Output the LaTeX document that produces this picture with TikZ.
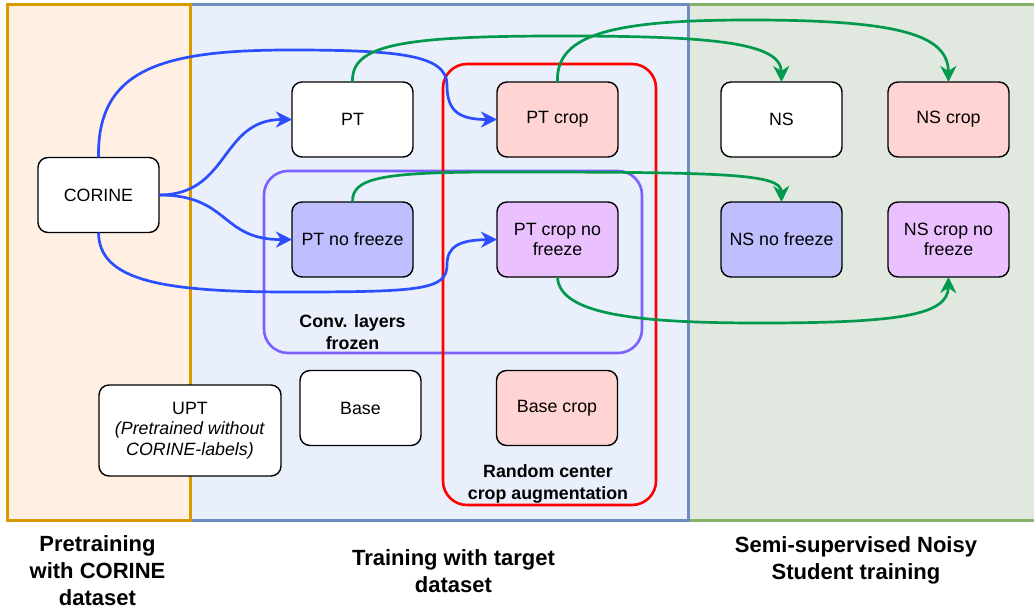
\documentclass[tikz,border=0pt]{standalone}
\usepackage{fontspec}
\setmainfont{Liberation Sans}
\usetikzlibrary{positioning, arrows.meta}
\definecolor{prefill}{HTML}{FFF0E3}
\definecolor{preline}{HTML}{D79B00}
\definecolor{trainfill}{HTML}{E9EFFB}
\definecolor{trainline}{HTML}{6C8EBF}
\definecolor{nsfill}{HTML}{E1E8E0}
\definecolor{nsline}{HTML}{82B366}
\definecolor{cropfill}{HTML}{FFD4D3}
\definecolor{freezefill}{HTML}{BFBFFF}
\definecolor{bothfill}{HTML}{EBC0FF}
\definecolor{frozenline}{HTML}{7B61FF}
\definecolor{pretrainblue}{HTML}{2B4EFF}
\definecolor{studentgreen}{HTML}{00994D}
\tikzset{block/.style={draw, rounded corners=5pt, line width=0.7pt, fill=white, outer sep=0pt,
            minimum width=60.5pt, minimum height=37.5pt, align=center, inner sep=2pt,
            font=\fontsize{8.9}{10.3}\selectfont},
         panel/.style={line width=1.5pt},
         group/.style={line width=1.3pt, rounded corners=12pt},
         grouplabel/.style={align=center, font=\fontsize{8.9}{10.8}\selectfont\bfseries},
         stagelabel/.style={align=center, font=\fontsize{11}{13.5}\selectfont\bfseries},
         pretrain/.style={draw=pretrainblue, line width=1.35pt, -{Stealth[length=8pt, width=8pt, inset=2.5pt]}},
         student/.style={draw=studentgreen, line width=1.35pt, -{Stealth[length=8pt, width=8pt, inset=2.5pt]}}}

\begin{document}
\begin{tikzpicture}[x=0.5pt, y=-0.5pt]
    \useasboundingbox (0,0) rectangle (1034,610);
    % stages
    \draw[panel, draw=nsline, fill=nsfill] (688,5) rectangle (1040,520);
    \draw[panel, draw=trainline, fill=trainfill] (190,5) rectangle (688,520);
    \draw[panel, draw=preline, fill=prefill] (7,5) rectangle (190,520);

    % groups
    \draw[group, draw=frozenline] (264,171) rectangle (642,353);
    \draw[group, draw=red] (443,64) rectangle (656,505);
    \node[grouplabel] (frozen) at (352.5,332) {Conv. layers\\frozen};
    \node[grouplabel] (cropaug) at (548,484) {Random center\\crop augmentation};

    % models
    \node[block] (corine) at (98.5,195) {CORINE};
    \node[block] (pt) at (352.5,119.5) {PT};
    \node[block, fill=cropfill, right=42pt of pt] (ptcrop) {PT crop};
    \node[block, fill=freezefill, below=22.5pt of pt] (ptnf) {PT no freeze};
    \node[block, fill=bothfill, below=22.5pt of ptcrop] (ptcropnf) {PT crop no\\freeze};
    \node[block, right=51.5pt of ptcrop] (ns) {NS};
    \node[block, fill=cropfill, right=23pt of ns] (nscrop) {NS crop};
    \node[block, fill=freezefill, below=22.5pt of ns] (nsnf) {NS no freeze};
    \node[block, fill=bothfill, below=22.5pt of nscrop] (nscropnf) {NS crop no\\freeze};
    \node[block, minimum width=91pt, minimum height=45.5pt] (upt) at (190,430.5)
        {UPT\\\textit{(Pretrained without}\\\textit{CORINE-labels)}};
    \node[block] (base) at (360.5,408) {Base};
    \node[block, fill=cropfill] (basecrop) at (557,408) {Base crop};

    % pretrained weights
    \draw[pretrain] (corine.east) .. controls (230,195) and (220,119.5) .. (pt.west);
    \draw[pretrain] (corine.east) .. controls (230,195) and (220,240) .. (ptnf.west);
    \draw[pretrain] (corine.north) .. controls (97,70) and (160,50) .. (290,50)
        .. controls (400,50) and (447,55) .. (447,85)
        .. controls (447,112) and (460,119.5) .. (ptcrop.west);
    \draw[pretrain] (corine.south) .. controls (99,280) and (160,292) .. (290,292)
        .. controls (420,292) and (447,290) .. (447,265)
        .. controls (447,246) and (460,240) .. (ptcropnf.west);

    % teachers
    \draw[student] (pt.north) .. controls (351,45) and (400,36) .. (560,36)
        .. controls (710,36) and (781,42) .. (ns.north);
    \draw[student] (ptcrop.north) .. controls (555,32) and (620,20) .. (750,20)
        .. controls (900,20) and (948,35) .. (nscrop.north);
    \draw[student] (ptnf.north) .. controls (352,178) and (380,172) .. (500,172)
        .. controls (730,172) and (781,174) .. (nsnf.north);
    \draw[student] (ptcropnf.south) .. controls (559,315) and (640,323) .. (760,323)
        .. controls (900,323) and (948,315) .. (nscropnf.south);

    % stage names
    \node[stagelabel] (prename) at (97.5,571) {Pretraining\\with CORINE\\dataset};
    \node[stagelabel] (trainname) at (453.5,571) {Training with target\\dataset};
    \node[stagelabel] (nsname) at (856,560) {Semi-supervised Noisy\\Student training};
\end{tikzpicture}
\end{document}
